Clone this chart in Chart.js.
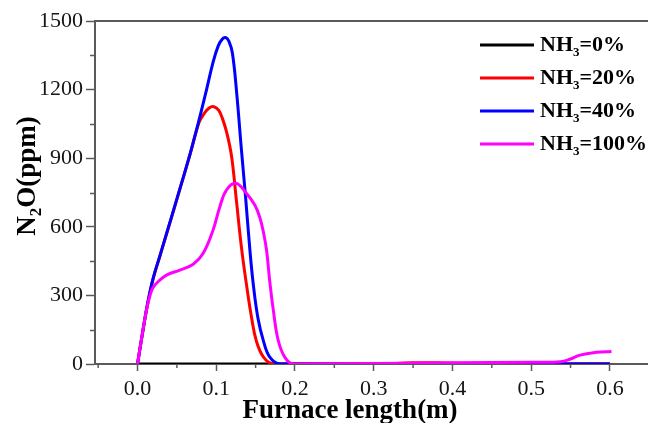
<!DOCTYPE html>
<html>
<head>
<meta charset="utf-8">
<script src="https://cdn.jsdelivr.net/npm/chart.js@4.4.0/dist/chart.umd.min.js"></script>
<style>
html,body{margin:0;padding:0;background:#fff;}
#wrap{width:648px;height:423px;position:relative;}
</style>
</head>
<body>
<div id="wrap"><canvas id="c"></canvas></div>
<script>
// ---- data ----
const seriesNames = ["0%", "20%", "40%", "100%"];
const seriesColors = ["#000000", "#ff0000", "#0000ff", "#ff00ff"];

const x0 = [0, 0.1, 0.2, 0.3, 0.4, 0.5, 0.6];
const y0 = [0, 0, 0, 0, 0, 0, 0];

const x20 = [0, 0.0071, 0.0135, 0.02, 0.0283, 0.037, 0.05, 0.0665, 0.078, 0.085, 0.091, 0.097, 0.103, 0.108, 0.113, 0.1194, 0.125, 0.132, 0.1385, 0.145, 0.151, 0.16, 0.172, 0.2, 0.3, 0.35, 0.38, 0.42, 0.5, 0.6];
const y20 = [0, 150, 275, 375, 470, 570, 720, 914, 1055, 1097, 1120, 1125, 1110, 1072, 1016, 910, 735, 510, 345, 200, 100, 30, 0, 0, 0, 5, 5, 2, 0, 0];

const x40 = [0, 0.0071, 0.0135, 0.02, 0.0283, 0.037, 0.05, 0.0665, 0.078, 0.0877, 0.096, 0.1024, 0.1075, 0.1118, 0.116, 0.1205, 0.1258, 0.132, 0.1375, 0.1427, 0.147, 0.153, 0.16, 0.168, 0.181, 0.3, 0.6];
const y40 = [0, 152, 277, 377, 472, 572, 722, 916, 1065, 1200, 1320, 1390, 1420, 1428, 1412, 1360, 1191, 936, 720, 500, 350, 200, 100, 30, 0, 0, 0];

const x100 = [0, 0.007, 0.0114, 0.0155, 0.0198, 0.0283, 0.0368, 0.0537, 0.0707, 0.0834, 0.096, 0.1046, 0.113, 0.1249, 0.1385, 0.149, 0.1554, 0.16, 0.164, 0.168, 0.1727, 0.1786, 0.187, 0.1977, 0.3, 0.4, 0.5, 0.537, 0.55, 0.562, 0.583, 0.602];
const y100 = [0, 150, 236, 295, 335, 367, 389, 411, 436, 484, 586, 688, 761, 790, 746, 695, 640, 575, 495, 360, 230, 105, 30, 0, 2, 5, 8, 10, 22, 39, 51, 55];

const xTicks = [0, 0.1, 0.2, 0.3, 0.4, 0.5, 0.6];
const yTicks = [0, 300, 600, 900, 1200, 1500];

const xTitle = "Furnace length(m)";
const yTitleParts = ["N", "2", "O(ppm)"];
const legendParts = ["NH", "3", "="];

const xsAll = [x0, x20, x40, x100];
const ysAll = [y0, y20, y40, y100];

function pts(xs, ys) { return xs.map((x, i) => ({x: x, y: ys[i]})); }

const SERIF = "'Liberation Serif', 'Times New Roman', serif";
const AXIS_COLOR = "#5a5a5a";

const decor = {
  id: 'decor',
  afterDraw(chart) {
    const ctx = chart.ctx;
    const xs = chart.scales.x, ys = chart.scales.y;
    const ca = chart.chartArea;
    ctx.save();
    ctx.strokeStyle = AXIS_COLOR;
    ctx.lineWidth = 1.5;
    // minor y ticks
    for (let v = 150; v < 1500; v += 300) {
      const p = Math.round(ys.getPixelForValue(v)) + 0.5;
      ctx.beginPath(); ctx.moveTo(ca.left - 5, p); ctx.lineTo(ca.left, p); ctx.stroke();
    }
    // minor x ticks
    for (let v = -0.05; v < xs.max; v += 0.1) {
      const p = xs.getPixelForValue(v);
      if (p < ca.left) continue;
      ctx.beginPath(); ctx.moveTo(p, ca.bottom); ctx.lineTo(p, ca.bottom + 4); ctx.stroke();
    }
    // top frame line
    ctx.lineWidth = 2;
    ctx.beginPath(); ctx.moveTo(ca.left, ca.top); ctx.lineTo(ca.right, ca.top); ctx.stroke();

    ctx.fillStyle = '#000';
    ctx.textAlign = 'left';

    // x axis title
    ctx.font = "bold 27px " + SERIF;
    ctx.textBaseline = 'alphabetic';
    const tw = ctx.measureText(xTitle).width;
    ctx.fillText(xTitle, 350 - tw / 2, 418);

    // y axis title with subscript
    ctx.save();
    ctx.translate(35, 176);
    ctx.rotate(-Math.PI / 2);
    const bigF = "bold 27px " + SERIF, smallF = "bold 17px " + SERIF;
    ctx.font = bigF; const w1 = ctx.measureText(yTitleParts[0]).width;
    ctx.font = smallF; const w2 = ctx.measureText(yTitleParts[1]).width;
    ctx.font = bigF; const w3 = ctx.measureText(yTitleParts[2]).width;
    let px = -(w1 + w2 + w3) / 2;
    ctx.font = bigF; ctx.fillText(yTitleParts[0], px, 0); px += w1;
    ctx.font = smallF; ctx.fillText(yTitleParts[1], px, 6); px += w2;
    ctx.font = bigF; ctx.fillText(yTitleParts[2], px, 0);
    ctx.restore();

    // legend
    const lx0 = 480, lx1 = 534, tx = 540;
    const rowY = [45, 78, 111, 144];
    chart.data.datasets.forEach((ds, i) => {
      const y = rowY[i];
      ctx.strokeStyle = ds.borderColor;
      ctx.lineWidth = 3;
      ctx.beginPath(); ctx.moveTo(lx0, y); ctx.lineTo(lx1, y); ctx.stroke();
      ctx.fillStyle = '#000';
      ctx.textBaseline = 'middle';
      let x = tx;
      ctx.font = "bold 22px " + SERIF;
      ctx.fillText(legendParts[0], x, y);
      x += ctx.measureText(legendParts[0]).width;
      ctx.font = "bold 13px " + SERIF;
      ctx.fillText(legendParts[1], x, y + 8);
      x += ctx.measureText(legendParts[1]).width;
      ctx.font = "bold 22px " + SERIF;
      ctx.fillText(legendParts[2] + seriesNames[i], x, y);
    });
    ctx.restore();
  }
};

const datasets = seriesNames.map((n, i) => ({
  label: "NH3=" + n,
  data: pts(xsAll[i], ysAll[i]),
  borderColor: seriesColors[i],
  backgroundColor: seriesColors[i],
  borderWidth: 3,
  pointRadius: 0,
  showLine: true,
  fill: false,
  tension: 0.4,
  order: 4 - i
}));

new Chart(document.getElementById('c'), {
  type: 'scatter',
  data: { datasets: datasets },
  options: {
    responsive: true,
    maintainAspectRatio: false,
    animation: false,
    devicePixelRatio: 1,
    layout: { padding: { top: 21, right: 0, left: 0, bottom: 0 } },
    plugins: { legend: { display: false }, tooltip: { enabled: false } },
    scales: {
      x: {
        type: 'linear',
        min: -0.054,
        max: 0.6484,
        afterBuildTicks(scale) { scale.ticks = xTicks.map(v => ({value: v})); },
        afterFit(scale) { scale.height = 59; },
        ticks: {
          callback: (v) => Number(v).toFixed(1),
          color: '#151515',
          font: { family: SERIF, size: 22 },
          padding: 5,
          maxRotation: 0
        },
        grid: { drawOnChartArea: false, tickLength: 7, color: AXIS_COLOR, tickWidth: 1.5 },
        border: { color: AXIS_COLOR, width: 2 },
        title: { display: false }
      },
      y: {
        min: 0,
        max: 1500,
        afterBuildTicks(scale) { scale.ticks = yTicks.map(v => ({value: v})); },
        afterFit(scale) { scale.width = 95; },
        ticks: {
          callback: (v) => String(v),
          color: '#151515',
          font: { family: SERIF, size: 22 },
          padding: 3
        },
        grid: { drawOnChartArea: false, tickLength: 9, color: AXIS_COLOR, tickWidth: 1.5 },
        border: { color: AXIS_COLOR, width: 2 },
        title: { display: false }
      }
    }
  },
  plugins: [decor]
});
</script>
</body>
</html>
